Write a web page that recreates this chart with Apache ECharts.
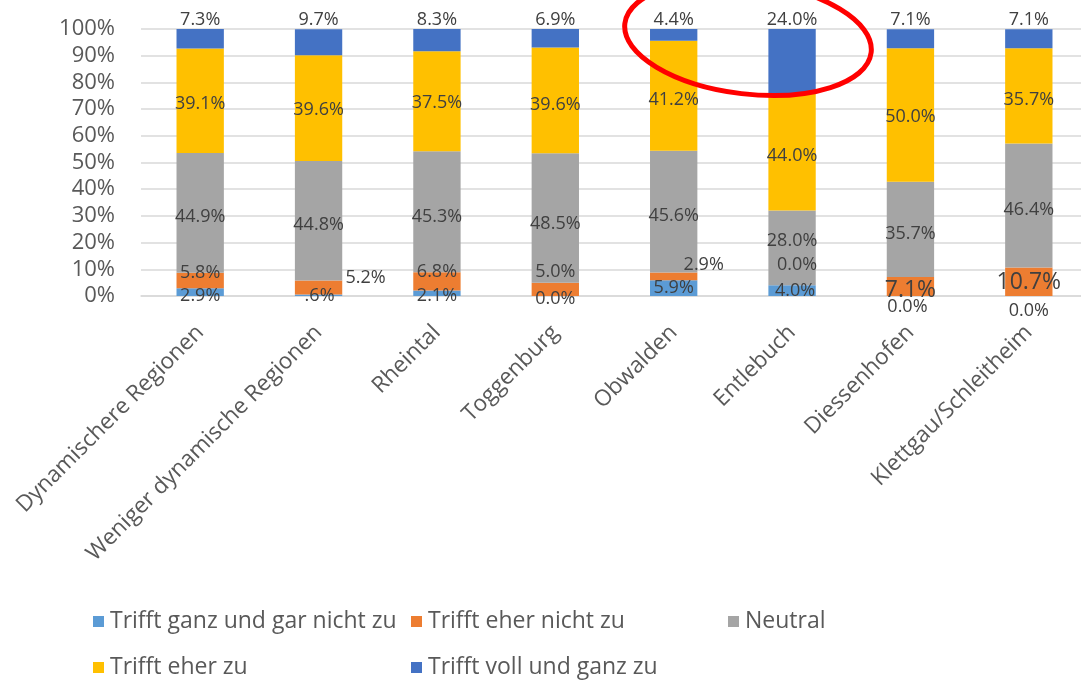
<!DOCTYPE html>
<html><head><meta charset="utf-8">
<script src="https://cdn.jsdelivr.net/npm/echarts@6/dist/echarts.min.js"></script>
<style>html,body{margin:0;padding:0;background:#fff}#c{width:1081px;height:684px}</style>
</head><body><div id="c"></div>
<script>
// ---- data ----
const categories = ['Dynamischere Regionen','Weniger dynamische Regionen','Rheintal','Toggenburg','Obwalden','Entlebuch','Diessenhofen','Klettgau/Schleitheim'];
const seriesNames = ['Trifft ganz und gar nicht zu','Trifft eher nicht zu','Neutral','Trifft eher zu','Trifft voll und ganz zu'];
const ganzUndGarNicht = [2.9, 0.6, 2.1, 0.0, 5.9, 4.0, 0.0, 0.0];
const eherNicht       = [5.8, 5.2, 6.8, 5.0, 2.9, 0.0, 7.1, 10.7];
const neutral         = [44.9, 44.8, 45.3, 48.5, 45.6, 28.0, 35.7, 46.4];
const eherZu          = [39.1, 39.6, 37.5, 39.6, 41.2, 44.0, 50.0, 35.7];
const vollUndGanz     = [7.3, 9.7, 8.3, 6.9, 4.4, 24.0, 7.1, 7.1];
const yTickValues = [0,10,20,30,40,50,60,70,80,90,100];
// label text overrides (as printed in the original)
const labelTextOverride = {'0-1': '.6%'};

// ---- style / layout ----
const FONT = '"Open Sans", sans-serif';
const colors = ['#5B9BD5','#ED7D31','#A5A5A5','#FFC000','#4472C4'];
const values = [ganzUndGarNicht, eherNicht, neutral, eherZu, vollUndGanz];
const labelOffsets = [
  [[0,4],[1,1],[0,3],[0,3],[0,0],[3,0],[-3,11],[0,15]],
  [[0,-8],[47,-9.5],[0,-9],[0,-17],[30,-12],[5,-20],[0,4],[0,1]],
  [[0,4],[0,4],[0,5],[0,6],[0,4],[0,-7],[0,4],[0,4]],
  [[0,3],[0,2],[0,2],[0,5],[0,4],[0,4],[0,2],[0,4]],
  [[0,2],[0,2],[0,2],[0,2],[0,2],[0,2],[0,2],[0,2]]
];
const bigLabels = {'1-6': 23, '1-7': 23};

const series = values.map((arr, si) => ({
  name: seriesNames[si],
  type: 'bar',
  stack: 'total',
  barWidth: '40%',
  itemStyle: {color: colors[si]},
  label: {
    show: true,
    position: si === 4 ? 'top' : 'inside',
    distance: 2,
    fontFamily: FONT,
    fontSize: 18,
    color: '#404040',
    formatter: p => labelTextOverride[si + '-' + p.dataIndex] || (p.value.toFixed(1) + '%')
  },
  data: arr.map((v, ci) => {
    const d = {value: v};
    const lab = {offset: labelOffsets[si][ci]};
    if (bigLabels[si + '-' + ci]) lab.fontSize = bigLabels[si + '-' + ci];
    d.label = lab;
    return d;
  })
}));

const legendPos = [[93,610],[411,610],[728,610],[93,656],[411,656]];
const legends = seriesNames.map((n, i) => ({
  data: [n], left: legendPos[i][0], top: legendPos[i][1],
  icon: 'rect', itemWidth: 11, itemHeight: 11, padding: 0, itemGap: 0,
  selectedMode: false,
  textStyle: {fontFamily: FONT, fontSize: 23, color: '#595959', padding: [0,0,0,1]}
}));

const chart = echarts.init(document.getElementById('c'), null, {renderer: 'canvas'});
chart.setOption({
  animation: false,
  backgroundColor: '#fff',
  grid: {left: 141, right: -7, top: 29, bottom: 388, containLabel: false, outerBoundsMode: 'none'},
  legend: legends,
  xAxis: {
    type: 'category',
    data: categories,
    axisTick: {show: false},
    axisLine: {show: true, lineStyle: {color: '#d9d9d9', width: 1.5}},
    axisLabel: {interval: 0, rotate: 45, verticalAlign: 'middle', margin: 33,
      fontFamily: FONT, fontSize: 22.5, color: '#595959'}
  },
  yAxis: {
    type: 'value', min: yTickValues[0], max: yTickValues[yTickValues.length-1], interval: 10,
    axisLine: {show: false}, axisTick: {show: false},
    splitLine: {lineStyle: {color: '#d9d9d9', width: 1.5}},
    axisLabel: {formatter: '{value}%', margin: 26, fontFamily: FONT, fontSize: 22, color: '#595959'}
  },
  series: series,
  graphic: [{
    type: 'ellipse', x: 748, y: 38, rotation: -0.117, z: 100,
    shape: {cx: 0, cy: 0, rx: 124, ry: 56},
    style: {fill: 'none', stroke: '#FF0000', lineWidth: 5}
  }]
});
</script></body></html>
